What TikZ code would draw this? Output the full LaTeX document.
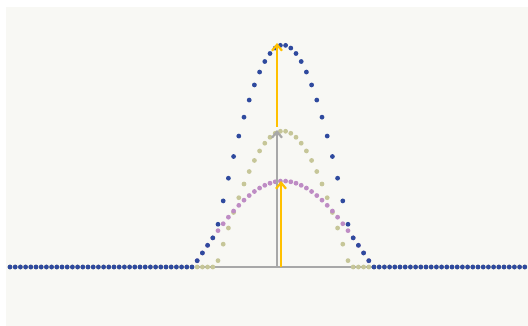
\documentclass[tikz,border=0pt]{standalone}
\usetikzlibrary{arrows.meta}
\definecolor{bgpaper}{HTML}{F8F8F4}
\definecolor{wavebl}{HTML}{2F4A9E}
\definecolor{waveol}{HTML}{C6C698}
\definecolor{wavepu}{HTML}{BE8CC4}
\definecolor{vecyl}{HTML}{FFC000}
\definecolor{vecgr}{HTML}{A8A8A8}
\begin{document}
\begin{tikzpicture}[x=1pt, y=-1pt, wavedot/.style={radius=2.4pt}, vec/.style={line width=2.2pt, -{Straight Barb[length=6pt, width=10pt]}}]
        \useasboundingbox (0,0) rectangle (528,326);
        \fill[bgpaper] (6,7) rectangle (528,326);
        \draw[vecgr, line width=1.2pt] (195,267) -- (375,267);
        % narrow wave
        \foreach \i in {0,...,99} {
            \pgfmathsetmacro{\d}{5.2*\i-273}
            \pgfmathsetmacro{\h}{abs(\d)<67 ? 136*cos(\d/67*90) : 0}
            \fill[waveol] (10+5.2*\i, 267-\h) circle[wavedot];
        }
        % wide wave
        \foreach \i in {36,...,69} {
            \pgfmathsetmacro{\h}{86*cos(5.2*\i-273)}
            \fill[wavepu] (10+5.2*\i, 267-\h) circle[wavedot];
        }
        % sum
        \foreach \i in {0,...,99} {
            \pgfmathsetmacro{\d}{5.2*\i-273}
            \pgfmathsetmacro{\h}{(abs(\d)<67 ? 136*cos(\d/67*90) : 0) + (abs(\d)<90 ? 86*cos(\d) : 0)}
            \fill[wavebl] (10+5.2*\i, 267-\h) circle[wavedot];
        }
        \coordinate (base1) at (277,267);
        \coordinate (base2) at (281,267);
        \coordinate (oltop) at (277,130);
        \coordinate (putop) at (281,181);
        \coordinate (bltop) at (277,43);
        \draw[vec, vecgr] (base1) -- (oltop);
        \draw[vec, vecyl] (base2) -- (putop);
        \draw[vec, vecyl, shorten <=3pt] (oltop) -- (bltop);
    \end{tikzpicture}
\end{document}
